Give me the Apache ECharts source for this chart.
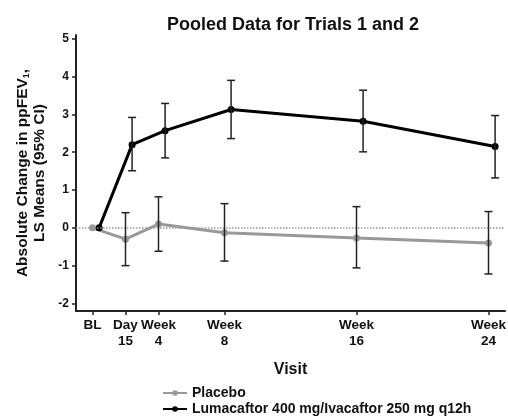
<!DOCTYPE html>
<html>
<head>
<meta charset="utf-8">
<script src="https://cdn.jsdelivr.net/npm/echarts@6/dist/echarts.min.js"></script>
<style>
  html, body { margin: 0; padding: 0; background: #fff; }
  #chart { width: 508px; height: 416px; }
</style>
</head>
<body>
<div id="chart"></div>
<script>
// visit positions (weeks) and labels
var visitWeeks = [0, 2, 4, 8, 16, 24];
var visitLabels = ['BL', 'Day\n15', 'Week\n4', 'Week\n8', 'Week\n16', 'Week\n24'];
var yTicks = [-2, -1, 0, 1, 2, 3, 4, 5];

// placebo: LS mean, lower CI, upper CI
var placeboMean = [0, -0.3, 0.1, -0.13, -0.27, -0.4];
var placeboLow = [null, -1.0, -0.62, -0.88, -1.06, -1.22];
var placeboHigh = [null, 0.4, 0.82, 0.64, 0.56, 0.43];

// lumacaftor/ivacaftor: LS mean, lower CI, upper CI
var lumaMean = [0, 2.2, 2.57, 3.13, 2.82, 2.15];
var lumaLow = [null, 1.51, 1.85, 2.36, 2.01, 1.32];
var lumaHigh = [null, 2.92, 3.29, 3.9, 3.64, 2.97];

var font = 'Liberation Sans, Arial, sans-serif';
var dodge = 0.4; // small horizontal offset so the two groups don't overlap

function pts(mean, shift) {
    return visitWeeks.map(function (w, i) { return [w + shift, mean[i]]; });
}
function bars(low, high, shift) {
    var res = [];
    visitWeeks.forEach(function (w, i) {
        if (low[i] !== null) res.push([w + shift, low[i], high[i]]);
    });
    return res;
}

var errorBar = function (params, api) {
    var lo = api.coord([api.value(0), api.value(1)]);
    var hi = api.coord([api.value(0), api.value(2)]);
    var cap = 4;
    var style = { stroke: '#222', lineWidth: 1.5 };
    return {
        type: 'group',
        children: [
            { type: 'line', shape: { x1: lo[0], y1: lo[1], x2: hi[0], y2: hi[1] }, style: style },
            { type: 'line', shape: { x1: lo[0] - cap, y1: lo[1], x2: lo[0] + cap, y2: lo[1] }, style: style },
            { type: 'line', shape: { x1: hi[0] - cap, y1: hi[1], x2: hi[0] + cap, y2: hi[1] }, style: style }
        ]
    };
};

var myChart = echarts.init(document.getElementById('chart'));
var option = {
    animation: false,
    title: {
        text: 'Pooled Data for Trials 1 and 2',
        left: 288,
        top: 11,
        textAlign: 'center',
        textStyle: { fontFamily: font, fontSize: 18, fontWeight: 'bold', color: '#111' }
    },
    legend: {
        orient: 'vertical',
        left: 162,
        top: 386,
        height: 40,
        padding: 0,
        itemWidth: 24,
        itemHeight: 7,
        itemGap: 2,
        textStyle: { fontFamily: font, fontSize: 14, fontWeight: 'bold', color: '#111' },
        data: ['Placebo', 'Lumacaftor 400 mg/Ivacaftor 250 mg q12h']
    },
    grid: { left: 76, right: 3, top: 35, bottom: 105, outerBoundsMode: 'none' },
    xAxis: {
        type: 'value',
        min: -1,
        max: 25,
        name: 'Visit',
        nameLocation: 'middle',
        nameGap: 51,
        nameTextStyle: { fontFamily: font, fontSize: 16, fontWeight: 'bold', color: '#111' },
        axisLine: { onZero: false, lineStyle: { color: '#222', width: 2 } },
        axisTick: { show: true, length: 4, customValues: visitWeeks, lineStyle: { color: '#222', width: 1.5 } },
        axisLabel: {
            customValues: visitWeeks,
            fontFamily: font, fontSize: 13.5, fontWeight: 'bold', color: '#111',
            lineHeight: 16, margin: 6,
            formatter: function (v) {
                var i = visitWeeks.indexOf(v);
                return i >= 0 ? visitLabels[i] : '';
            }
        },
        splitLine: { show: false }
    },
    yAxis: {
        type: 'value',
        min: -2.2,
        max: 5.1,
        name: '{t|Absolute Change in ppFEV}{s|1}{t|,}\n{t|LS Means (95% CI)}',
        nameLocation: 'middle',
        nameGap: 28,
        nameTextStyle: {
            rich: {
                t: { fontFamily: font, fontSize: 15.5, fontWeight: 'bold', color: '#111', lineHeight: 17 },
                s: { fontFamily: font, fontSize: 9, fontWeight: 'bold', color: '#111', verticalAlign: 'bottom', lineHeight: 17 }
            }
        },
        axisLine: { show: true, onZero: false, lineStyle: { color: '#222', width: 2 } },
        axisTick: { show: true, length: 4, customValues: yTicks, lineStyle: { color: '#222', width: 1.5 } },
        axisLabel: {
            customValues: yTicks,
            fontFamily: font, fontSize: 12, fontWeight: 'bold', color: '#111', margin: 7
        },
        splitLine: { show: false }
    },
    series: [
        {
            name: 'Placebo',
            type: 'line',
            data: pts(placeboMean, 0),
            color: '#999',
            lineStyle: { width: 3, color: '#999' },
            symbol: 'circle',
            symbolSize: 7,
            itemStyle: { color: '#999' },
            z: 3,
            markLine: {
                silent: true,
                symbol: 'none',
                label: { show: false },
                lineStyle: { color: '#999', type: 'dotted', width: 1.5 },
                data: [{ yAxis: 0 }]
            }
        },
        {
            name: 'Lumacaftor 400 mg/Ivacaftor 250 mg q12h',
            type: 'line',
            data: pts(lumaMean, dodge),
            color: '#000',
            lineStyle: { width: 3, color: '#000' },
            symbol: 'circle',
            symbolSize: 7,
            itemStyle: { color: '#000' },
            z: 4
        },
        {
            type: 'custom',
            renderItem: errorBar,
            data: bars(placeboLow, placeboHigh, 0),
            encode: { x: 0, y: [1, 2] },
            z: 5
        },
        {
            type: 'custom',
            renderItem: errorBar,
            data: bars(lumaLow, lumaHigh, dodge),
            encode: { x: 0, y: [1, 2] },
            z: 5
        }
    ]
};
myChart.setOption(option);
</script>
</body>
</html>
